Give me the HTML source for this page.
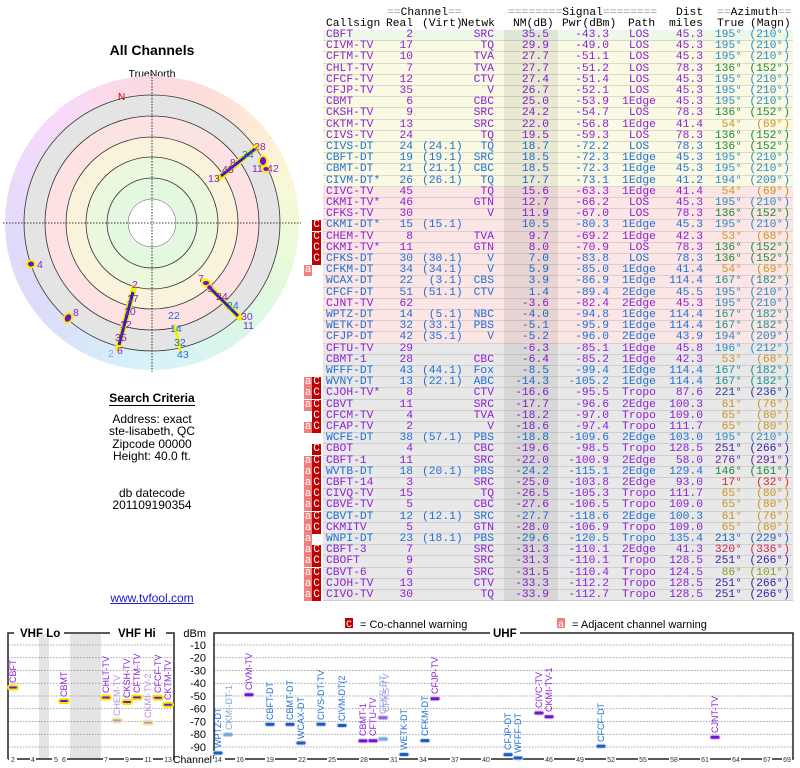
<!DOCTYPE html>
<html><head><meta charset="utf-8"><style>
body{margin:0;width:800px;height:768px;background:#fff;position:relative;overflow:hidden;font-family:"Liberation Sans",sans-serif}
.t{position:absolute;font-family:"Liberation Mono",monospace;font-size:11.3px;line-height:11.2px;white-space:pre}
.r{position:absolute;left:323px;width:470px;height:11.2px;border-bottom:1px solid rgba(160,160,160,0.35);box-sizing:border-box}
.r span{position:absolute;top:0;font-family:"Liberation Mono",monospace;font-size:11.3px;line-height:11.2px;white-space:pre}
.g{background:#eef8e8}.y{background:#fafae4}.p{background:#fbe5e5}.q{background:#e8e8e8}
.P{color:#8c1fd6}.B{color:#1f6fd6}
.cs{left:3px}.re{left:57px;width:33px;text-align:right}.vi{left:99px}.nw{left:117px;width:54px;text-align:right}
.nm{left:167px;width:59px;text-align:right}.pw{left:227px;width:59px;text-align:right}.pa{left:277px;width:78px;text-align:center}
.di{left:327px;width:53px;text-align:right}.tr{left:377px;width:42px;text-align:right}.mg{left:422px;width:45px;text-align:right}
.a1{color:#2a8cc4}.a2{color:#1a8a3a}.a3{color:#c8961e}.a4{color:#1a9090}.a5{color:#2a3a9a}.a6{color:#3a20a8}.a7{color:#6a20a8}.a8{color:#e02020}.a9{color:#d02050}.a0{color:#8a9a20}.aB{color:#2060b8}
.mC{position:absolute;left:312px;width:9px;height:11px;background:#c00000;color:#fff;font-family:"Liberation Mono",monospace;font-size:11px;line-height:11px;text-align:center}
.ma{position:absolute;left:304px;width:8px;height:11px;background:#f08080;color:#fff;font-family:"Liberation Mono",monospace;font-size:11px;line-height:11px;text-align:center}
.lt{position:absolute;width:304px;left:0;text-align:center;font-size:12px;color:#000}
.h{position:absolute;top:19px;font-family:"Liberation Mono",monospace;font-size:11.3px;line-height:11.2px;white-space:pre}
</style></head><body>

<div class="t" style="left:387px;top:8px;color:#000"><span style="color:#999">==</span>Channel<span style="color:#999">==</span></div>
<div class="t" style="left:508px;top:8px"><span style="color:#999">========</span>Signal<span style="color:#999">========</span></div>
<div class="t" style="left:676px;top:8px">Dist</div>
<div class="t" style="left:717px;top:8px"><span style="color:#999">==</span>Azimuth<span style="color:#999">==</span></div>
<div class="h" style="left:326px">Callsign</div>
<div class="h" style="left:386px">Real</div>
<div class="h" style="left:422px">(Virt)</div>
<div class="h" style="left:461px">Netwk</div>
<div class="h" style="left:513px">NM(dB)</div>
<div class="h" style="left:562px">Pwr(dBm)</div>
<div class="h" style="left:628px">Path</div>
<div class="h" style="left:669px">miles</div>
<div class="h" style="left:717px">True</div>
<div class="h" style="left:750px">(Magn)</div>

<div class="r g P" style="top:30px"><span class="cs">CBFT</span><span class="re">2</span><span class="nw">SRC</span><span class="nm">35.5</span><span class="pw">-43.3</span><span class="pa">LOS</span><span class="di">45.3</span><span class="tr a1">195°</span><span class="mg a1">(210°)</span></div>
<div class="r y P" style="top:41.2px"><span class="cs">CIVM-TV</span><span class="re">17</span><span class="nw">TQ</span><span class="nm">29.9</span><span class="pw">-49.0</span><span class="pa">LOS</span><span class="di">45.3</span><span class="tr a1">195°</span><span class="mg a1">(210°)</span></div>
<div class="r y P" style="top:52.4px"><span class="cs">CFTM-TV</span><span class="re">10</span><span class="nw">TVA</span><span class="nm">27.7</span><span class="pw">-51.1</span><span class="pa">LOS</span><span class="di">45.3</span><span class="tr a1">195°</span><span class="mg a1">(210°)</span></div>
<div class="r y P" style="top:63.6px"><span class="cs">CHLT-TV</span><span class="re">7</span><span class="nw">TVA</span><span class="nm">27.7</span><span class="pw">-51.2</span><span class="pa">LOS</span><span class="di">78.3</span><span class="tr a2">136°</span><span class="mg a2">(152°)</span></div>
<div class="r y P" style="top:74.8px"><span class="cs">CFCF-TV</span><span class="re">12</span><span class="nw">CTV</span><span class="nm">27.4</span><span class="pw">-51.4</span><span class="pa">LOS</span><span class="di">45.3</span><span class="tr a1">195°</span><span class="mg a1">(210°)</span></div>
<div class="r y P" style="top:86px"><span class="cs">CFJP-TV</span><span class="re">35</span><span class="nw">V</span><span class="nm">26.7</span><span class="pw">-52.1</span><span class="pa">LOS</span><span class="di">45.3</span><span class="tr a1">195°</span><span class="mg a1">(210°)</span></div>
<div class="r y P" style="top:97.2px"><span class="cs">CBMT</span><span class="re">6</span><span class="nw">CBC</span><span class="nm">25.0</span><span class="pw">-53.9</span><span class="pa">1Edge</span><span class="di">45.3</span><span class="tr a1">195°</span><span class="mg a1">(210°)</span></div>
<div class="r y P" style="top:108.4px"><span class="cs">CKSH-TV</span><span class="re">9</span><span class="nw">SRC</span><span class="nm">24.2</span><span class="pw">-54.7</span><span class="pa">LOS</span><span class="di">78.3</span><span class="tr a2">136°</span><span class="mg a2">(152°)</span></div>
<div class="r y P" style="top:119.6px"><span class="cs">CKTM-TV</span><span class="re">13</span><span class="nw">SRC</span><span class="nm">22.0</span><span class="pw">-56.8</span><span class="pa">1Edge</span><span class="di">41.4</span><span class="tr a3">54°</span><span class="mg a3">(69°)</span></div>
<div class="r y P" style="top:130.8px"><span class="cs">CIVS-TV</span><span class="re">24</span><span class="nw">TQ</span><span class="nm">19.5</span><span class="pw">-59.3</span><span class="pa">LOS</span><span class="di">78.3</span><span class="tr a2">136°</span><span class="mg a2">(152°)</span></div>
<div class="r y B" style="top:142px"><span class="cs">CIVS-DT</span><span class="re">24</span><span class="vi">(24.1)</span><span class="nw">TQ</span><span class="nm">18.7</span><span class="pw">-72.2</span><span class="pa">LOS</span><span class="di">78.3</span><span class="tr a2">136°</span><span class="mg a2">(152°)</span></div>
<div class="r y B" style="top:153.2px"><span class="cs">CBFT-DT</span><span class="re">19</span><span class="vi">(19.1)</span><span class="nw">SRC</span><span class="nm">18.5</span><span class="pw">-72.3</span><span class="pa">1Edge</span><span class="di">45.3</span><span class="tr a1">195°</span><span class="mg a1">(210°)</span></div>
<div class="r y B" style="top:164.4px"><span class="cs">CBMT-DT</span><span class="re">21</span><span class="vi">(21.1)</span><span class="nw">CBC</span><span class="nm">18.5</span><span class="pw">-72.3</span><span class="pa">1Edge</span><span class="di">45.3</span><span class="tr a1">195°</span><span class="mg a1">(210°)</span></div>
<div class="r y B" style="top:175.6px"><span class="cs">CIVM-DT*</span><span class="re">26</span><span class="vi">(26.1)</span><span class="nw">TQ</span><span class="nm">17.7</span><span class="pw">-73.1</span><span class="pa">1Edge</span><span class="di">41.2</span><span class="tr a1">194°</span><span class="mg a1">(209°)</span></div>
<div class="r p P" style="top:186.8px"><span class="cs">CIVC-TV</span><span class="re">45</span><span class="nw">TQ</span><span class="nm">15.6</span><span class="pw">-63.3</span><span class="pa">1Edge</span><span class="di">41.4</span><span class="tr a3">54°</span><span class="mg a3">(69°)</span></div>
<div class="r p P" style="top:198px"><span class="cs">CKMI-TV*</span><span class="re">46</span><span class="nw">GTN</span><span class="nm">12.7</span><span class="pw">-66.2</span><span class="pa">LOS</span><span class="di">45.3</span><span class="tr a1">195°</span><span class="mg a1">(210°)</span></div>
<div class="r p P" style="top:209.2px"><span class="cs">CFKS-TV</span><span class="re">30</span><span class="nw">V</span><span class="nm">11.9</span><span class="pw">-67.0</span><span class="pa">LOS</span><span class="di">78.3</span><span class="tr a2">136°</span><span class="mg a2">(152°)</span></div>
<div class="r p B" style="top:220.4px"><span class="cs">CKMI-DT*</span><span class="re">15</span><span class="vi">(15.1)</span><span class="nm">10.5</span><span class="pw">-80.3</span><span class="pa">1Edge</span><span class="di">45.3</span><span class="tr a1">195°</span><span class="mg a1">(210°)</span></div>
<div class="r p P" style="top:231.6px"><span class="cs">CHEM-TV</span><span class="re">8</span><span class="nw">TVA</span><span class="nm">9.7</span><span class="pw">-69.2</span><span class="pa">1Edge</span><span class="di">42.3</span><span class="tr a3">53°</span><span class="mg a3">(68°)</span></div>
<div class="r p P" style="top:242.8px"><span class="cs">CKMI-TV*</span><span class="re">11</span><span class="nw">GTN</span><span class="nm">8.0</span><span class="pw">-70.9</span><span class="pa">LOS</span><span class="di">78.3</span><span class="tr a2">136°</span><span class="mg a2">(152°)</span></div>
<div class="r p B" style="top:254px"><span class="cs">CFKS-DT</span><span class="re">30</span><span class="vi">(30.1)</span><span class="nw">V</span><span class="nm">7.0</span><span class="pw">-83.8</span><span class="pa">LOS</span><span class="di">78.3</span><span class="tr a2">136°</span><span class="mg a2">(152°)</span></div>
<div class="r p B" style="top:265.2px"><span class="cs">CFKM-DT</span><span class="re">34</span><span class="vi">(34.1)</span><span class="nw">V</span><span class="nm">5.9</span><span class="pw">-85.0</span><span class="pa">1Edge</span><span class="di">41.4</span><span class="tr a3">54°</span><span class="mg a3">(69°)</span></div>
<div class="r p B" style="top:276.4px"><span class="cs">WCAX-DT</span><span class="re">22</span><span class="vi"> (3.1)</span><span class="nw">CBS</span><span class="nm">3.9</span><span class="pw">-86.9</span><span class="pa">1Edge</span><span class="di">114.4</span><span class="tr a4">167°</span><span class="mg a4">(182°)</span></div>
<div class="r p B" style="top:287.6px"><span class="cs">CFCF-DT</span><span class="re">51</span><span class="vi">(51.1)</span><span class="nw">CTV</span><span class="nm">1.4</span><span class="pw">-89.4</span><span class="pa">2Edge</span><span class="di">45.5</span><span class="tr a1">195°</span><span class="mg a1">(210°)</span></div>
<div class="r p P" style="top:298.8px"><span class="cs">CJNT-TV</span><span class="re">62</span><span class="nm">-3.6</span><span class="pw">-82.4</span><span class="pa">2Edge</span><span class="di">45.3</span><span class="tr a1">195°</span><span class="mg a1">(210°)</span></div>
<div class="r p B" style="top:310px"><span class="cs">WPTZ-DT</span><span class="re">14</span><span class="vi"> (5.1)</span><span class="nw">NBC</span><span class="nm">-4.0</span><span class="pw">-94.8</span><span class="pa">1Edge</span><span class="di">114.4</span><span class="tr a4">167°</span><span class="mg a4">(182°)</span></div>
<div class="r p B" style="top:321.2px"><span class="cs">WETK-DT</span><span class="re">32</span><span class="vi">(33.1)</span><span class="nw">PBS</span><span class="nm">-5.1</span><span class="pw">-95.9</span><span class="pa">1Edge</span><span class="di">114.4</span><span class="tr a4">167°</span><span class="mg a4">(182°)</span></div>
<div class="r p B" style="top:332.4px"><span class="cs">CFJP-DT</span><span class="re">42</span><span class="vi">(35.1)</span><span class="nw">V</span><span class="nm">-5.2</span><span class="pw">-96.0</span><span class="pa">2Edge</span><span class="di">43.9</span><span class="tr a1">194°</span><span class="mg a1">(209°)</span></div>
<div class="r q P" style="top:343.6px"><span class="cs">CFTU-TV</span><span class="re">29</span><span class="nm">-6.3</span><span class="pw">-85.1</span><span class="pa">1Edge</span><span class="di">45.8</span><span class="tr a1">196°</span><span class="mg a1">(212°)</span></div>
<div class="r q P" style="top:354.8px"><span class="cs">CBMT-1</span><span class="re">28</span><span class="nw">CBC</span><span class="nm">-6.4</span><span class="pw">-85.2</span><span class="pa">1Edge</span><span class="di">42.3</span><span class="tr a3">53°</span><span class="mg a3">(68°)</span></div>
<div class="r q B" style="top:366px"><span class="cs">WFFF-DT</span><span class="re">43</span><span class="vi">(44.1)</span><span class="nw">Fox</span><span class="nm">-8.5</span><span class="pw">-99.4</span><span class="pa">1Edge</span><span class="di">114.4</span><span class="tr a4">167°</span><span class="mg a4">(182°)</span></div>
<div class="r q B" style="top:377.2px"><span class="cs">WVNY-DT</span><span class="re">13</span><span class="vi">(22.1)</span><span class="nw">ABC</span><span class="nm">-14.3</span><span class="pw">-105.2</span><span class="pa">1Edge</span><span class="di">114.4</span><span class="tr a4">167°</span><span class="mg a4">(182°)</span></div>
<div class="r q P" style="top:388.4px"><span class="cs">CJOH-TV*</span><span class="re">8</span><span class="nw">CTV</span><span class="nm">-16.6</span><span class="pw">-95.5</span><span class="pa">Tropo</span><span class="di">87.6</span><span class="tr a5">221°</span><span class="mg a5">(236°)</span></div>
<div class="r q P" style="top:399.6px"><span class="cs">CBVT</span><span class="re">11</span><span class="nw">SRC</span><span class="nm">-17.7</span><span class="pw">-96.6</span><span class="pa">2Edge</span><span class="di">100.3</span><span class="tr a3">61°</span><span class="mg a3">(76°)</span></div>
<div class="r q P" style="top:410.8px"><span class="cs">CFCM-TV</span><span class="re">4</span><span class="nw">TVA</span><span class="nm">-18.2</span><span class="pw">-97.0</span><span class="pa">Tropo</span><span class="di">109.0</span><span class="tr a3">65°</span><span class="mg a3">(80°)</span></div>
<div class="r q P" style="top:422px"><span class="cs">CFAP-TV</span><span class="re">2</span><span class="nw">V</span><span class="nm">-18.6</span><span class="pw">-97.4</span><span class="pa">Tropo</span><span class="di">111.7</span><span class="tr a3">65°</span><span class="mg a3">(80°)</span></div>
<div class="r q B" style="top:433.2px"><span class="cs">WCFE-DT</span><span class="re">38</span><span class="vi">(57.1)</span><span class="nw">PBS</span><span class="nm">-18.8</span><span class="pw">-109.6</span><span class="pa">2Edge</span><span class="di">103.0</span><span class="tr a1">195°</span><span class="mg a1">(210°)</span></div>
<div class="r q P" style="top:444.4px"><span class="cs">CBOT</span><span class="re">4</span><span class="nw">CBC</span><span class="nm">-19.6</span><span class="pw">-98.5</span><span class="pa">Tropo</span><span class="di">128.5</span><span class="tr a6">251°</span><span class="mg a6">(266°)</span></div>
<div class="r q P" style="top:455.6px"><span class="cs">CBFT-1</span><span class="re">11</span><span class="nw">SRC</span><span class="nm">-22.0</span><span class="pw">-100.9</span><span class="pa">2Edge</span><span class="di">58.0</span><span class="tr a7">276°</span><span class="mg a7">(291°)</span></div>
<div class="r q B" style="top:466.8px"><span class="cs">WVTB-DT</span><span class="re">18</span><span class="vi">(20.1)</span><span class="nw">PBS</span><span class="nm">-24.2</span><span class="pw">-115.1</span><span class="pa">2Edge</span><span class="di">129.4</span><span class="tr a2">146°</span><span class="mg a2">(161°)</span></div>
<div class="r q P" style="top:478px"><span class="cs">CBFT-14</span><span class="re">3</span><span class="nw">SRC</span><span class="nm">-25.0</span><span class="pw">-103.8</span><span class="pa">2Edge</span><span class="di">93.0</span><span class="tr a8">17°</span><span class="mg a8">(32°)</span></div>
<div class="r q P" style="top:489.2px"><span class="cs">CIVQ-TV</span><span class="re">15</span><span class="nw">TQ</span><span class="nm">-26.5</span><span class="pw">-105.3</span><span class="pa">Tropo</span><span class="di">111.7</span><span class="tr a3">65°</span><span class="mg a3">(80°)</span></div>
<div class="r q P" style="top:500.4px"><span class="cs">CBVE-TV</span><span class="re">5</span><span class="nw">CBC</span><span class="nm">-27.6</span><span class="pw">-106.5</span><span class="pa">Tropo</span><span class="di">109.0</span><span class="tr a3">65°</span><span class="mg a3">(80°)</span></div>
<div class="r q B" style="top:511.6px"><span class="cs">CBVT-DT</span><span class="re">12</span><span class="vi">(12.1)</span><span class="nw">SRC</span><span class="nm">-27.7</span><span class="pw">-118.6</span><span class="pa">2Edge</span><span class="di">100.3</span><span class="tr a3">61°</span><span class="mg a3">(76°)</span></div>
<div class="r q P" style="top:522.8px"><span class="cs">CKMITV</span><span class="re">5</span><span class="nw">GTN</span><span class="nm">-28.0</span><span class="pw">-106.9</span><span class="pa">Tropo</span><span class="di">109.0</span><span class="tr a3">65°</span><span class="mg a3">(80°)</span></div>
<div class="r q B" style="top:534px"><span class="cs">WNPI-DT</span><span class="re">23</span><span class="vi">(18.1)</span><span class="nw">PBS</span><span class="nm">-29.6</span><span class="pw">-120.5</span><span class="pa">Tropo</span><span class="di">135.4</span><span class="tr aB">213°</span><span class="mg aB">(229°)</span></div>
<div class="r q P" style="top:545.2px"><span class="cs">CBFT-3</span><span class="re">7</span><span class="nw">SRC</span><span class="nm">-31.3</span><span class="pw">-110.1</span><span class="pa">2Edge</span><span class="di">41.3</span><span class="tr a9">320°</span><span class="mg a9">(336°)</span></div>
<div class="r q P" style="top:556.4px"><span class="cs">CBOFT</span><span class="re">9</span><span class="nw">SRC</span><span class="nm">-31.3</span><span class="pw">-110.1</span><span class="pa">Tropo</span><span class="di">128.5</span><span class="tr a6">251°</span><span class="mg a6">(266°)</span></div>
<div class="r q P" style="top:567.6px"><span class="cs">CBVT-6</span><span class="re">6</span><span class="nw">SRC</span><span class="nm">-31.5</span><span class="pw">-110.4</span><span class="pa">Tropo</span><span class="di">124.5</span><span class="tr a0">86°</span><span class="mg a0">(101°)</span></div>
<div class="r q P" style="top:578.8px"><span class="cs">CJOH-TV</span><span class="re">13</span><span class="nw">CTV</span><span class="nm">-33.3</span><span class="pw">-112.2</span><span class="pa">Tropo</span><span class="di">128.5</span><span class="tr a6">251°</span><span class="mg a6">(266°)</span></div>
<div class="r q P" style="top:590px"><span class="cs">CIVO-TV</span><span class="re">30</span><span class="nw">TQ</span><span class="nm">-33.9</span><span class="pw">-112.7</span><span class="pa">Tropo</span><span class="di">128.5</span><span class="tr a6">251°</span><span class="mg a6">(266°)</span></div>

<div style="position:absolute;left:504px;top:30px;width:54px;height:571px;background:rgba(0,0,0,0.07)"></div>

<div class="mC" style="top:220.4px">C</div><div class="mC" style="top:231.6px">C</div><div class="mC" style="top:242.8px">C</div><div class="mC" style="top:254px">C</div>
<div class="ma" style="top:265.2px">a</div>
<div class="ma" style="top:377.2px">a</div><div class="mC" style="top:377.2px">C</div>
<div class="ma" style="top:388.4px">a</div><div class="mC" style="top:388.4px">C</div>
<div class="ma" style="top:399.6px">a</div><div class="mC" style="top:399.6px">C</div>
<div class="mC" style="top:410.8px">C</div>
<div class="ma" style="top:422px">a</div><div class="mC" style="top:422px">C</div>
<div class="mC" style="top:444.4px">C</div>
<div class="ma" style="top:455.6px">a</div><div class="mC" style="top:455.6px">C</div>
<div class="ma" style="top:466.8px">a</div><div class="mC" style="top:466.8px">C</div>
<div class="ma" style="top:478px">a</div><div class="mC" style="top:478px">C</div>
<div class="ma" style="top:489.2px">a</div><div class="mC" style="top:489.2px">C</div>
<div class="ma" style="top:500.4px">a</div><div class="mC" style="top:500.4px">C</div>
<div class="ma" style="top:511.6px">a</div><div class="mC" style="top:511.6px">C</div>
<div class="ma" style="top:522.8px">a</div><div class="mC" style="top:522.8px">C</div>
<div class="ma" style="top:534px">a</div>
<div class="ma" style="top:545.2px">a</div><div class="mC" style="top:545.2px">C</div>
<div class="ma" style="top:556.4px">a</div><div class="mC" style="top:556.4px">C</div>
<div class="ma" style="top:567.6px">a</div><div class="mC" style="top:567.6px">C</div>
<div class="ma" style="top:578.8px">a</div><div class="mC" style="top:578.8px">C</div>
<div class="ma" style="top:590px">a</div><div class="mC" style="top:590px">C</div>

<div class="lt" style="top:42px;font-size:14px;font-weight:bold">All Channels</div>
<div class="lt" style="top:68px;font-size:10.5px">TrueNorth</div>
<div class="lt" style="top:391px;font-weight:bold"><span style="border-bottom:1.5px solid #000">Search Criteria</span></div>
<div class="lt" style="top:413px;line-height:12.4px">Address: exact<br>ste-lisabeth, QC<br>Zipcode 00000<br>Height: 40.0 ft.</div>
<div class="lt" style="top:487px;line-height:12.4px">db datecode<br>201109190354</div>
<div class="lt" style="top:591px;color:#1a1ad0;text-decoration:underline">www.tvfool.com</div>

<div style="position:absolute;left:5px;top:76px;width:294px;height:294px;border-radius:50%;background:conic-gradient(#fadadf 0deg,#fde0d8 30deg,#fdecd6 50deg,#fbf6d8 70deg,#f1fad8 90deg,#e4f9dc 115deg,#daf7e6 140deg,#d8f4f4 165deg,#d6f2fa 185deg,#d8e6fa 210deg,#dadcfa 235deg,#e2dafa 265deg,#eedafa 295deg,#f8dafa 320deg,#fadae6 345deg,#fadadf 360deg)"></div>
<svg width="800" height="768" style="position:absolute;left:0;top:0" font-family="Liberation Sans, sans-serif">
<g transform="translate(152,223)">
<circle r="128" fill="#e4e4e4" stroke="#333" stroke-width="0.8"/>
<circle r="107" fill="#fce2e2" stroke="#333" stroke-width="0.8"/>
<circle r="86" fill="#faf3dc" stroke="#333" stroke-width="0.8"/>
<circle r="66" fill="#ecf8de" stroke="#333" stroke-width="0.8"/>
<circle r="45" fill="#e4f7e0" stroke="#333" stroke-width="0.8"/>
<circle r="24" fill="#fff" stroke="#555" stroke-width="0.5"/>
<line x1="-149" y1="0" x2="149" y2="0" stroke="#000" stroke-width="0.8" stroke-dasharray="1.5,1.5"/>
<line x1="0" y1="-149" x2="0" y2="149" stroke="#000" stroke-width="0.8" stroke-dasharray="1.5,1.5"/>
</g>
<text x="118" y="100" font-size="10" fill="#d00000">N</text>
<g stroke="#f4f000" stroke-width="6" stroke-linecap="round">
<line x1="219" y1="178" x2="257" y2="147"/>
<line x1="134" y1="288" x2="118" y2="348"/>
<line x1="204" y1="281" x2="240" y2="318"/>
<line x1="175" y1="326" x2="180" y2="350" stroke-width="3"/>
</g>
<g stroke="#3020c0" stroke-width="3">
<line x1="221" y1="176" x2="255" y2="149"/>
<line x1="133" y1="292" x2="119" y2="345"/>
<line x1="206" y1="284" x2="238" y2="316"/>
</g>
<g fill="#7010d0" stroke="#f4f000" stroke-width="2">
<ellipse cx="263" cy="161" rx="4" ry="5"/><ellipse cx="266" cy="169" rx="3.5" ry="3"/>
<ellipse cx="31" cy="264" rx="4" ry="3.5"/><ellipse cx="68" cy="318" rx="4" ry="5" transform="rotate(30 68 318)"/>
<ellipse cx="206" cy="283" rx="4" ry="3"/>
</g>
<g font-size="10.5" fill="#8c1fd6">
<text x="208" y="182">13</text><text x="222" y="173">45</text><text x="230" y="166">8</text><text x="254" y="150" >28</text>
<text x="252" y="172">11</text><text x="267" y="172">42</text>
<text x="37" y="268">4</text><text x="73" y="316">8</text>
<text x="132" y="288">2</text><text x="127" y="302">17</text><text x="124" y="315">10</text><text x="120" y="328">12</text><text x="115" y="341">35</text><text x="117" y="354">6</text>
<text x="198" y="282">7</text><text x="207" y="292">9</text><text x="216" y="300">24</text><text x="241" y="320">30</text><text x="243" y="329">11</text>
</g>
<g font-size="10.5" fill="#1f6fd6">
<text x="242" y="158">34</text><text x="227" y="309">24</text>
<text x="168" y="319">22</text><text x="170" y="332">14</text><text x="174" y="346">32</text><text x="177" y="358">43</text>
<text x="108" y="357" fill="#9a9af0">2</text>
</g>

<rect x="345" y="618" width="8" height="10" fill="#c00000"/><text x="346" y="627" font-size="10" fill="#fff" font-family="Liberation Mono, monospace">C</text>
<text x="360" y="628" font-size="11">= Co-channel warning</text>
<rect x="557" y="618" width="8" height="10" fill="#f08080"/><text x="558" y="627" font-size="10" fill="#fff" font-family="Liberation Mono, monospace">a</text>
<text x="572" y="628" font-size="11">= Adjacent channel warning</text>

<rect x="39" y="634" width="10" height="125" fill="#e4e4e4"/>
<rect x="70" y="634" width="31" height="125" fill="#e4e4e4"/>
<g stroke="#888" stroke-width="0.7" stroke-dasharray="1.5,1.5">
<line x1="8" y1="645" x2="173" y2="645"/><line x1="8" y1="657.75" x2="173" y2="657.75"/><line x1="8" y1="670.5" x2="173" y2="670.5"/><line x1="8" y1="683.25" x2="173" y2="683.25"/><line x1="8" y1="696" x2="173" y2="696"/><line x1="8" y1="708.75" x2="173" y2="708.75"/><line x1="8" y1="721.5" x2="173" y2="721.5"/><line x1="8" y1="734.25" x2="173" y2="734.25"/><line x1="8" y1="747" x2="173" y2="747"/>
<line x1="214" y1="645" x2="793" y2="645"/><line x1="214" y1="657.75" x2="793" y2="657.75"/><line x1="214" y1="670.5" x2="793" y2="670.5"/><line x1="214" y1="683.25" x2="793" y2="683.25"/><line x1="214" y1="696" x2="793" y2="696"/><line x1="214" y1="708.75" x2="793" y2="708.75"/><line x1="214" y1="721.5" x2="793" y2="721.5"/><line x1="214" y1="734.25" x2="793" y2="734.25"/><line x1="214" y1="747" x2="793" y2="747"/>
</g>
<g fill="none" stroke="#222" stroke-width="1.5">
<path d="M8,759 V633 H14 M64,633 H110 M166,633 H174 V759 H8"/>
<path d="M214,759 V633 H490 M520,633 H793 V759 H214"/>
</g>
<text x="20" y="637" font-size="11.5" font-weight="bold">VHF Lo</text>
<text x="118" y="637" font-size="11.5" font-weight="bold">VHF Hi</text>
<text x="493" y="637" font-size="11.5" font-weight="bold">UHF</text>
<g font-size="11" text-anchor="end">
<text x="206" y="637">dBm</text><text x="206" y="649">-10</text><text x="206" y="661.5">-20</text><text x="206" y="674.3">-30</text><text x="206" y="687">-40</text><text x="206" y="699.8">-50</text><text x="206" y="712.5">-60</text><text x="206" y="725.3">-70</text><text x="206" y="738">-80</text><text x="206" y="750.8">-90</text>
<text x="212" y="763" font-size="10.5">Channel</text>
</g>
<g font-size="7" text-anchor="middle" fill="#333">
<g fill="#fff" stroke="none"><rect x="9" y="756" width="8" height="8"/><rect x="30" y="756" width="6" height="8"/><rect x="52" y="756" width="15" height="8"/><rect x="103" y="756" width="6" height="8"/><rect x="124" y="756" width="6" height="8"/><rect x="143" y="756" width="10" height="8"/><rect x="163" y="756" width="10" height="8"/></g>
<text x="13" y="762">2</text><text x="33" y="762">4</text><text x="56" y="762">5</text><text x="64" y="762">6</text><text x="106" y="762">7</text><text x="127" y="762">9</text><text x="148" y="762">11</text><text x="168" y="762">13</text>
<g fill="#fff"><rect x="214" y="756" width="11" height="8"/><rect x="235" y="756" width="10" height="8"/><rect x="265" y="756" width="10" height="8"/><rect x="297" y="756" width="10" height="8"/><rect x="327" y="756" width="10" height="8"/><rect x="359" y="756" width="10" height="8"/><rect x="389" y="756" width="10" height="8"/><rect x="418" y="756" width="10" height="8"/><rect x="450" y="756" width="10" height="8"/><rect x="481" y="756" width="10" height="8"/><rect x="544" y="756" width="10" height="8"/><rect x="575" y="756" width="10" height="8"/><rect x="606" y="756" width="10" height="8"/><rect x="638" y="756" width="10" height="8"/><rect x="669" y="756" width="10" height="8"/><rect x="700" y="756" width="10" height="8"/><rect x="731" y="756" width="10" height="8"/><rect x="762" y="756" width="10" height="8"/><rect x="782" y="756" width="10" height="8"/></g>
<text x="218" y="762">14</text><text x="240" y="762">16</text><text x="270" y="762">19</text><text x="302" y="762">22</text><text x="332" y="762">25</text><text x="364" y="762">28</text><text x="394" y="762">31</text><text x="423" y="762">34</text><text x="455" y="762">37</text><text x="486" y="762">40</text><text x="549" y="762">46</text><text x="580" y="762">49</text><text x="611" y="762">52</text><text x="643" y="762">55</text><text x="674" y="762">58</text><text x="705" y="762">61</text><text x="736" y="762">64</text><text x="767" y="762">67</text><text x="787" y="762">69</text>
</g>
<g stroke="#f0e800" stroke-width="2">
<rect x="8" y="685.5" width="10" height="4" rx="2" fill="#7a10d0"/>
<rect x="59" y="699" width="10" height="4" rx="2" fill="#7a10d0"/>
<rect x="101" y="695.5" width="10" height="4" rx="2" fill="#7a10d0"/>
<rect x="112" y="718.5" width="10" height="4" rx="2" fill="#b890e0" stroke="#f0e8a0"/>
<rect x="122" y="700" width="10" height="4" rx="2" fill="#7a10d0"/>
<rect x="132" y="695.4" width="10" height="4" rx="2" fill="#7a10d0"/>
<rect x="143" y="720.6" width="10" height="4" rx="2" fill="#b890e0" stroke="#f0e8a0"/>
<rect x="153" y="695.8" width="10" height="4" rx="2" fill="#7a10d0"/>
<rect x="163" y="702.7" width="10" height="4" rx="2" fill="#7a10d0"/>
</g>
<g font-size="9" fill="#8c1fd6">
<text transform="translate(16,683) rotate(-90)">CBFT</text>
<text transform="translate(67,697) rotate(-90)">CBMT</text>
<text transform="translate(109,693) rotate(-90)">CHLT-TV</text>
<text transform="translate(120,716) rotate(-90)" fill="#b890e0">CHEM-TV</text>
<text transform="translate(130,698) rotate(-90)">CKSH-TV</text>
<text transform="translate(140,693) rotate(-90)">CFTM-TV</text>
<text transform="translate(151,718) rotate(-90)" fill="#b890e0">CKMI-TV-2</text>
<text transform="translate(161,693) rotate(-90)">CFCF-TV</text>
<text transform="translate(171,700) rotate(-90)">CKTM-TV</text>
</g>
<g fill="#1a5fc8" stroke="#c8d8f0" stroke-width="1">
<rect x="213" y="751" width="10" height="4" rx="2"/>
<rect x="223" y="732.6" width="10" height="4" rx="2" fill="#7aa8e0"/>
<rect x="265" y="722.4" width="10" height="4" rx="2"/>
<rect x="285" y="722.4" width="10" height="4" rx="2"/>
<rect x="296" y="741" width="10" height="4" rx="2"/>
<rect x="316" y="722.3" width="10" height="4" rx="2"/>
<rect x="337" y="723.5" width="10" height="4" rx="2"/>
<rect x="378" y="737" width="10" height="4" rx="2" fill="#7aa8e0"/>
<rect x="399" y="752.5" width="10" height="4" rx="2"/>
<rect x="420" y="738.6" width="10" height="4" rx="2"/>
<rect x="503" y="752.6" width="10" height="4" rx="2"/>
<rect x="513" y="756" width="10" height="4" rx="2"/>
<rect x="596" y="744.2" width="10" height="4" rx="2"/>
</g>
<g fill="#7a10d0" stroke="#d8c8f0" stroke-width="1">
<rect x="244" y="692.7" width="10" height="4" rx="2"/>
<rect x="358" y="738.9" width="10" height="4" rx="2"/>
<rect x="368" y="738.8" width="10" height="4" rx="2"/>
<rect x="378" y="715.7" width="10" height="4" rx="2" fill="#9a60d8"/>
<rect x="430" y="696.7" width="10" height="4" rx="2"/>
<rect x="534" y="711" width="10" height="4" rx="2"/>
<rect x="544" y="714.7" width="10" height="4" rx="2"/>
<rect x="710" y="735.3" width="10" height="4" rx="2"/>
</g>
<g font-size="9" fill="#1f6fd6">
<text transform="translate(221,748) rotate(-90)">WPTZ-DT</text>
<text transform="translate(232,730) rotate(-90)" fill="#7aa8e0">CKMI-DT-1</text>
<text transform="translate(273,720) rotate(-90)">CBFT-DT</text>
<text transform="translate(293,720) rotate(-90)">CBMT-DT</text>
<text transform="translate(304,739) rotate(-90)">WCAX-DT</text>
<text transform="translate(324,720) rotate(-90)">CIVS-DT-TV</text>
<text transform="translate(345,721) rotate(-90)">CIVM-DT(2</text>
<text transform="translate(386,714) rotate(-90)" fill="#7aa8e0">CFKS-DT</text>
<text transform="translate(407,750) rotate(-90)">WETK-DT</text>
<text transform="translate(428,736) rotate(-90)">CFKM-DT</text>
<text transform="translate(511,750) rotate(-90)">CFJP-DT</text>
<text transform="translate(521,753) rotate(-90)">WFFF-DT</text>
<text transform="translate(604,742) rotate(-90)">CFCF-DT</text>
</g>
<g font-size="9" fill="#8c1fd6">
<text transform="translate(252,690) rotate(-90)">CIVM-TV</text>
<text transform="translate(366,736) rotate(-90)">CBMT-1</text>
<text transform="translate(376,736) rotate(-90)">CFTU-TV</text>
<text transform="translate(389,712) rotate(-90)" fill="#b890e0">CFKS-TV</text>
<text transform="translate(438,694) rotate(-90)">CFJP-TV</text>
<text transform="translate(542,708) rotate(-90)">CIVC-TV</text>
<text transform="translate(552,712) rotate(-90)">CKMI-TV-1</text>
<text transform="translate(718,733) rotate(-90)">CJNT-TV</text>
</g>
</svg>
</body></html>
